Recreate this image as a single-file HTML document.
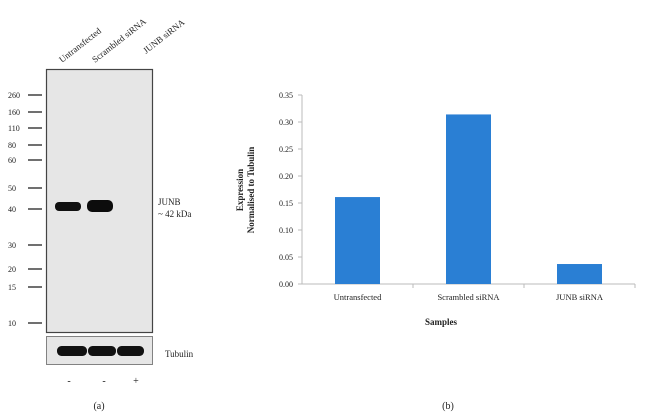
<!DOCTYPE html>
<html><head><meta charset="utf-8"><style>
body{margin:0;background:#fff;width:650px;height:418px;overflow:hidden;font-family:"Liberation Serif",serif;}
svg{display:block}
text{font-family:"Liberation Serif",serif;fill:#222}
</style></head><body>
<svg width="650" height="418">
<g>
  <text x="62" y="63" font-size="9" transform="rotate(-38 62 63)">Untransfected</text>
  <text x="95" y="63" font-size="9" transform="rotate(-38 95 63)">Scrambled siRNA</text>
  <text x="146" y="54" font-size="9" transform="rotate(-38 146 54)">JUNB siRNA</text>
  <rect x="46.5" y="69.5" width="106" height="263" fill="#e6e6e6" stroke="#444" stroke-width="1.2"/>
  <rect x="46.5" y="336.5" width="106" height="28" fill="#e6e6e6" stroke="#666" stroke-width="0.8"/>
  <g id="ladder"></g>
  <rect x="55" y="202" width="26" height="9" rx="4" fill="#111"/>
  <rect x="87" y="200" width="26" height="12" rx="5" fill="#0c0c0c"/>
  <rect x="57" y="346" width="30" height="10" rx="4.5" fill="#111"/>
  <rect x="88" y="346" width="28" height="10" rx="4.5" fill="#111"/>
  <rect x="117" y="346" width="27" height="10" rx="4.5" fill="#111"/>
  <text x="158" y="205" font-size="9">JUNB</text>
  <text x="158" y="217" font-size="9">~ 42 kDa</text>
  <text x="165" y="357" font-size="9">Tubulin</text>
  <text x="69" y="384" font-size="10" text-anchor="middle">-</text>
  <text x="104" y="384" font-size="10" text-anchor="middle">-</text>
  <text x="136" y="384" font-size="10" text-anchor="middle">+</text>
  <text x="99" y="409" font-size="10" text-anchor="middle">(a)</text>
</g>
<g id="chart">
  <text x="448" y="409" font-size="10" text-anchor="middle">(b)</text>
  <text x="441" y="325" font-size="9" font-weight="bold" text-anchor="middle">Samples</text>
  <text transform="translate(243 190) rotate(-90)" font-size="9" font-weight="bold" text-anchor="middle">Expression</text>
  <text transform="translate(254 190) rotate(-90)" font-size="9" font-weight="bold" text-anchor="middle">Normalised to Tubulin</text>
</g>
</svg>
<script>
const ladderLabels=["260","160","110","80","60","50","40","30","20","15","10"];
const ladderY=[95,112,128,145,160,188,209,245,269,287,323];
const categories=["Untransfected","Scrambled siRNA","JUNB siRNA"];
const values=[0.161,0.314,0.037];
const yTicks=[0,0.05,0.10,0.15,0.20,0.25,0.30,0.35];
const NS="http://www.w3.org/2000/svg";
function mk(tag,attrs,parent){const e=document.createElementNS(NS,tag);for(const k in attrs)e.setAttribute(k,attrs[k]);parent.appendChild(e);return e;}
const lad=document.getElementById('ladder');
ladderLabels.forEach((l,i)=>{
  const t=mk('text',{x:8,y:ladderY[i]+3,'font-size':8},lad);t.textContent=l;
  
  
  const ln=mk('line',{x1:28,x2:42,y1:ladderY[i],y2:ladderY[i],stroke:'#222','stroke-width':1.3},lad);
  
  
});
const g=document.getElementById('chart');
const x0=302,x1=635,y0=284,yTop=95,yMax=0.35;
const ys=v=>y0-(v/yMax)*(y0-yTop);
const cw=(x1-x0)/categories.length;
const xs=i=>x0+cw*(i+0.5);
mk('line',{x1:x0,x2:x0,y1:yTop,y2:y0,stroke:'#bbb'},g);
mk('line',{x1:x0,x2:x1,y1:y0,y2:y0,stroke:'#bbb'},g);
yTicks.forEach(v=>{
  const y=ys(v);
  const tl=mk('line',{x1:x0-4,x2:x0,y1:y,y2:y,stroke:'#bbb'},g);
  
  
  const t=mk('text',{x:x0-9,y:y+3,'font-size':8,'text-anchor':'end'},g);t.textContent=v.toFixed(2);
  
  
});
for(let i=1;i<=categories.length;i++){mk('line',{x1:x0+cw*i,x2:x0+cw*i,y1:y0,y2:y0+4,stroke:'#bbb'},g);}
categories.forEach((c,i)=>{
  const bw=45,y=ys(values[i]);
  const r=mk('rect',{x:xs(i)-bw/2,y:y,width:bw,height:y0-y,fill:'#2a7fd4'},g);
  
  
  const t=mk('text',{x:xs(i),y:y0+16,'font-size':8.5,'text-anchor':'middle'},g);t.textContent=c;
  
  
});
</script>
</body></html>
